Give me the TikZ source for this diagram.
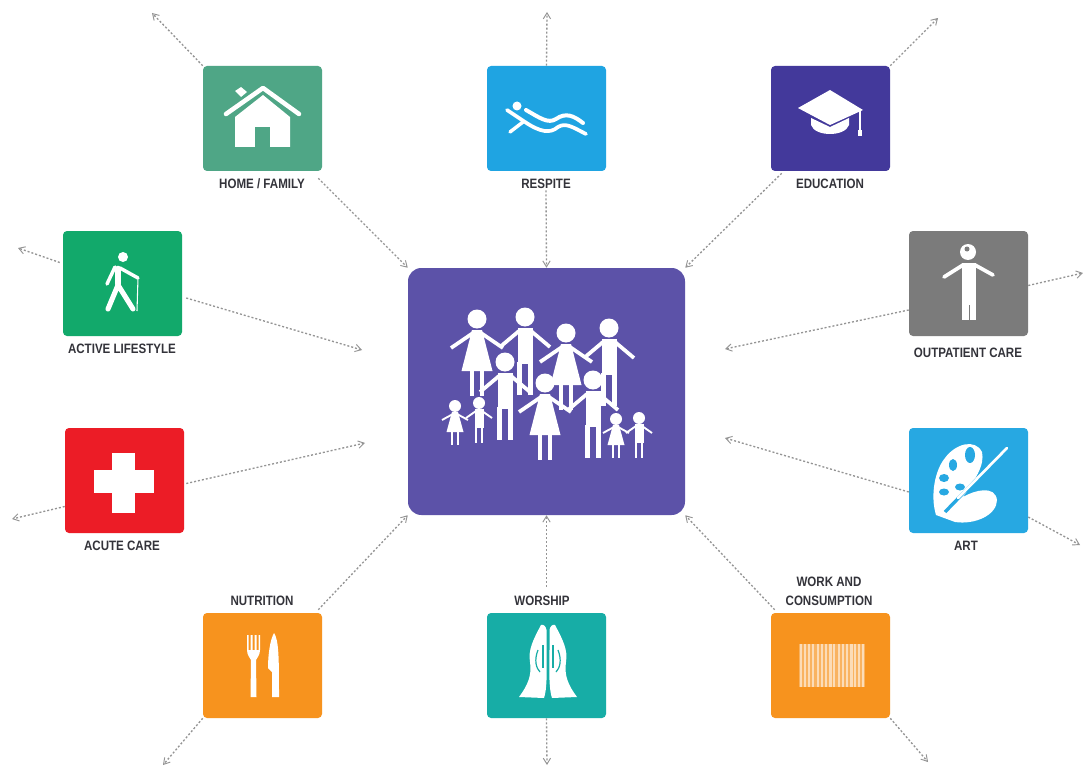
\documentclass[tikz,border=0pt]{standalone}
\usepackage{fontspec}
\setmainfont{Liberation Sans}[FakeStretch=0.85]
\usetikzlibrary{arrows.meta,calc}
\definecolor{chome}{HTML}{4FA686}
\definecolor{cresp}{HTML}{1FA4E2}
\definecolor{cedu}{HTML}{43399B}
\definecolor{cact}{HTML}{12A96B}
\definecolor{cacu}{HTML}{EC1C26}
\definecolor{cout}{HTML}{7B7B7B}
\definecolor{cart}{HTML}{27A8E2}
\definecolor{cnut}{HTML}{F7931E}
\definecolor{cwor}{HTML}{17ADA6}
\definecolor{ccen}{HTML}{5C52A8}
\definecolor{clab}{HTML}{33333A}
\tikzset{
  iconbox/.style={rectangle,rounded corners=3pt,minimum width=89.25pt,minimum height=78.75pt,inner sep=0pt,fill=#1},
  centerbox/.style={rectangle,rounded corners=10pt,minimum width=207.75pt,minimum height=185.25pt,inner sep=0pt,fill=ccen},
  lab/.style={font=\bfseries\fontsize{10.2}{14.25}\selectfont,text=clab,align=center,inner sep=1pt},
  conn/.style={draw=black!42,line width=1pt,dash pattern=on 1.5pt off 1.5pt,-{Straight Barb[length=4.5pt,width=5.5pt,line width=0.7pt]}},
  wline/.style={draw=white,line cap=round,line join=round},
  pics/man/.style={code={
    \fill[white] (0,0) circle (9.5);
    \fill[white] (-7.5,11) rectangle (7.5,47);
    \draw[white,line width=2.8pt] (-6,14) -- (-25,30) (6,14) -- (25,30);
    \draw[white,line width=3.4pt] (-5.3,45) -- (-5.3,78) (5.3,45) -- (5.3,78);
  }},
  pics/woman/.style={code={
    \fill[white] (0,0) circle (9.5);
    \fill[white] (-5,11) -- (5,11) -- (15.5,52) -- (-15.5,52) -- cycle;
    \draw[white,line width=2.8pt] (-4,14) -- (-26,29) (4,14) -- (26,29);
    \draw[white,line width=3.2pt] (-5,50) -- (-5,77) (5,50) -- (5,77);
  }},
  pics/boy/.style={code={
    \fill[white] (0,0) circle (6);
    \fill[white] (-4.5,6) rectangle (4.5,25);
    \draw[white,line width=1.4pt] (-3,8) -- (-13,15) (3,8) -- (13,15);
    \draw[white,line width=1.5pt] (-2.8,24) -- (-2.8,40) (2.8,24) -- (2.8,40);
  }},
  pics/girl/.style={code={
    \fill[white] (0,0) circle (6);
    \fill[white] (-3,6) -- (3,6) -- (8.5,26) -- (-8.5,26) -- cycle;
    \draw[white,line width=1.4pt] (-2,8) -- (-13,14) (2,8) -- (13,14);
    \draw[white,line width=1.5pt] (-3,25) -- (-3,39) (3,25) -- (3,39);
  }}
}
\begin{document}
\begin{tikzpicture}[x=0.75pt,y=-0.75pt]
\useasboundingbox[fill=white] (0,0) rectangle (1083,767);
% boxes
\node[centerbox] (center) at (546.5,391.5) {};
\node[iconbox=chome] (home) at (262.5,118.5) {};
\node[iconbox=cresp] (respite) at (546.5,118.5) {};
\node[iconbox=cedu] (education) at (830.5,118.5) {};
\node[iconbox=cact] (active) at (122.5,283.5) {};
\node[iconbox=cacu] (acute) at (124.5,480.5) {};
\node[iconbox=cout] (outpatient) at (968.5,283.5) {};
\node[iconbox=cart] (art) at (968.5,480.5) {};
\node[iconbox=cnut] (nutrition) at (262.5,665.5) {};
\node[iconbox=cwor] (worship) at (546.5,665.5) {};
\node[iconbox=cnut] (work) at (830.5,665.5) {};
% labels
\node[lab] (lhome) at (262,184) {HOME / FAMILY};
\node[lab] (lresp) at (546,184) {RESPITE};
\node[lab] (ledu) at (830,184) {EDUCATION};
\node[lab] (lact) at (122,349) {ACTIVE LIFESTYLE};
\node[lab] (lacu) at (122,546) {ACUTE CARE};
\node[lab] (lout) at (968,353) {OUTPATIENT CARE};
\node[lab] (lart) at (966,546) {ART};
\node[lab] (lnut) at (262,601) {NUTRITION};
\node[lab] (lwor) at (542,601) {WORSHIP};
\node[lab] (lwork) at (829,591.5) {WORK AND\\CONSUMPTION};
% free ends
\coordinate (ehome) at (152,13);
\coordinate (eresp) at (547,12);
\coordinate (eedu) at (938,18);
\coordinate (eact) at (18,248);
\coordinate (iact) at (362,350);
\coordinate (eacu) at (12,519);
\coordinate (iacu) at (365,443);
\coordinate (eout) at (1083,273);
\coordinate (iout) at (725,349);
\coordinate (eart) at (1080,545);
\coordinate (iart) at (725,438);
\coordinate (enut) at (163,765);
\coordinate (ewor) at (547,765);
\coordinate (ework) at (928,762);
% connectors
\draw[conn] (home.north west) -- (ehome);
\draw[conn] ([shift={(-4,7)}]home.south east) -- (center.north west);
\draw[conn] (respite.north) -- (eresp);
\draw[conn] (lresp.south) -- (center.north);
\draw[conn] (education.north east) -- (eedu);
\draw[conn] ([shift={(11,2)}]education.south west) -- (center.north east);
\draw[conn] ([shift={(-3,-21)}]active.west) -- (eact);
\draw[conn] ([shift={(4,14.5)}]active.east) -- (iact);
\draw[conn] ([shift={(0,26)}]acute.west) -- (eacu);
\draw[conn] ([shift={(2,3)}]acute.east) -- (iacu);
\draw[conn] ([shift={(0,2)}]outpatient.east) -- (eout);
\draw[conn] ([shift={(0,26.5)}]outpatient.west) -- (iout);
\draw[conn] ([shift={(0,36.5)}]art.east) -- (eart);
\draw[conn] ([shift={(0,11.5)}]art.west) -- (iart);
\draw[conn] ([shift={(-4,-3)}]nutrition.north east) -- (center.south west);
\draw[conn] (nutrition.south west) -- (enut);
\draw[conn] ([yshift=6pt]lwor.north -| worship.north) -- (center.south);
\draw[conn] (worship.south) -- (ewor);
\draw[conn] ([shift={(4,-3)}]work.north west) -- (center.south east);
\draw[conn] (work.south east) -- (ework);
% family
\path (477,319) pic {woman} (525,317) pic {man} (566,333) pic {woman} (609,328) pic {man};
\path (505,362) pic {man} (545,383) pic {woman} (593,380) pic {man};
\path (455,406) pic {girl} (479,403) pic {boy} (616,419) pic {girl} (639,418) pic {boy};
% home icon
\fill[white] (263,95) -- (290,117) -- (290,147) -- (235,147) -- (235,117) -- cycle;
\fill[chome] (255,127) rectangle (270,148);
\draw[wline,line width=3.4pt] (226,114) -- (263,88) -- (299,114);
\fill[white] (235,91) -- (241,87) -- (247,92) -- (241,97) -- cycle;
% respite icon
\fill[white] (517,106) circle (4.5);
\draw[wline,line width=3pt] (526,110) .. controls (540,118) and (548,124) .. (556,119) .. controls (566,112) and (574,116) .. (583,123);
\draw[wline,line width=2.8pt] (507,110) -- (525,122) .. controls (540,132) and (550,134) .. (558,127) .. controls (566,122) and (574,128) .. (586,134);
\draw[wline,line width=2.6pt] (523,122) -- (510,132);
% education icon
\fill[white] (830,90) -- (863,110) -- (830,125) -- (798,108) -- cycle;
\fill[white] (811,118) -- (830,127) -- (849,118) -- (849,125) .. controls (845,137) and (815,137) .. (811,125) -- cycle;
\draw[white,line width=1.3pt] (860,111) -- (860,132);
\fill[white] (858,130) rectangle (862,136);
% active icon
\fill[white] (123,257) circle (5);
\draw[wline,line width=5pt] (118,269) -- (118,284);
\draw[wline,line width=3.8pt] (118,285) -- (108,309) (118,285) -- (133,309);
\draw[wline,line width=2.6pt] (115,267) -- (107,284) (120,268) -- (138,278);
\draw[white,line width=0.8pt] (138,278) -- (137,311);
% cross
\fill[white] (112,453) rectangle (135,513);
\fill[white] (94,470) rectangle (154,493);
% outpatient icon
\fill[white] (968,252) circle (8);
\fill[cout] (967,249) circle (2.5);
\fill[white] (962,263) rectangle (976,320);
\fill[cout] (968.5,305) rectangle (969.8,320);
\draw[wline,line width=2.8pt] (963,265) -- (944,277) (975,265) -- (993,275);
% art icon
\fill[white] (936,515) .. controls (930,495) and (935,470) .. (945,458) .. controls (955,444) and (975,438) .. (982,452) .. controls (985,465) and (975,480) .. (963,497) .. controls (975,490) and (995,485) .. (997,500) .. controls (997,515) and (975,525) .. (955,522) -- cycle;
\fill[cart] (970,455) ellipse (5 and 8);
\fill[cart] (953,465) ellipse (4 and 6);
\fill[cart] (944,478) ellipse (5 and 4);
\fill[cart] (944,492) ellipse (5 and 3.5);
\fill[cart] (960,487) ellipse (5 and 3.5);
\draw[cart,line width=2.5pt] (1007,448) -- (945,512);
\draw[wline,line width=2pt] (1007,448) -- (958,498);
% fork and knife
\fill[white] (247,635) -- (248.5,635) -- (248.5,650) -- (250.5,650) -- (250.5,635) -- (252.5,635) -- (252.5,650) -- (254.5,650) -- (254.5,635) -- (256.5,635) -- (256.5,650) -- (258.5,650) -- (258.5,635) -- (260,635) -- (260,650) .. controls (260,655) and (257,658) .. (256,660) -- (256.5,697) -- (250.5,697) -- (251,660) .. controls (250,658) and (247,655) .. (247,650) -- cycle;
\fill[white] (274,633) .. controls (279,640) and (279,660) .. (279,697) -- (272,697) -- (272,672) -- (268,668) .. controls (268,655) and (270,640) .. (274,633) -- cycle;
% praying hands
\fill[white] (541,625) .. controls (533,640) and (528,650) .. (530,662) .. controls (532,675) and (528,685) .. (519,697) -- (544,698) .. controls (547,690) and (547,670) .. (546.5,650) -- (546.5,630) .. controls (546,626) and (543,624) .. (541,625) -- cycle;
\fill[white] (555,625) .. controls (563,640) and (568,650) .. (566,662) .. controls (564,675) and (568,685) .. (577,697) -- (552,698) .. controls (549,690) and (549,670) .. (549.5,650) -- (549.5,630) .. controls (550,626) and (553,624) .. (555,625) -- cycle;
\draw[cwor,line width=0.9pt] (538,650) .. controls (534,660) and (536,668) .. (540,672) (558,650) .. controls (562,660) and (560,668) .. (556,672);
\draw[cwor,line width=0.9pt] (543,645) -- (543,668) (553,645) -- (553,668);
% barcode
\fill[white,opacity=.3] (799,644) rectangle (865,687);
\foreach \x/\w in {800/1.5,804/1.5,808/2,812/1.5,817/2,821/1.5,825/1.5,829/2.5,833/1.5,838/2,842/1.5,846/1.5,850/2.5,854/2,858/1.5,862/1.5}{
  \fill[white,opacity=.55] (\x,644) rectangle ++(\w,43);
}
\end{tikzpicture}
\end{document}
